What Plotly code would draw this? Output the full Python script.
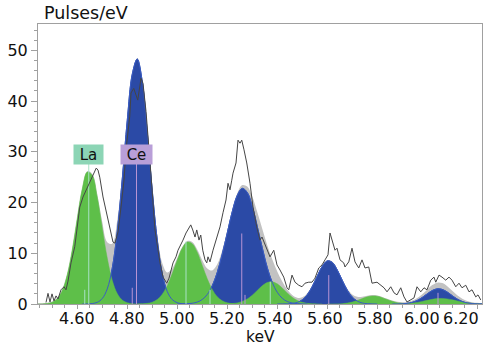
import numpy as np
import plotly.graph_objects as go

# ---------------- data ----------------
# measured spectrum (keV, pulses/eV)
spec_kev = [4.475, 4.483, 4.491, 4.499, 4.507, 4.515, 4.523, 4.535, 4.547, 4.555, 4.563, 4.575,
            4.590, 4.603, 4.610, 4.623, 4.636, 4.650, 4.663, 4.676, 4.683, 4.690, 4.703, 4.715,
            4.730, 4.743, 4.751, 4.763, 4.775, 4.787, 4.795, 4.810, 4.815, 4.826, 4.842, 4.855,
            4.863, 4.875, 4.891, 4.911, 4.931, 4.943, 4.958, 4.967, 4.983, 4.995, 5.003, 5.018,
            5.023, 5.035, 5.043, 5.054, 5.062, 5.071, 5.078, 5.087, 5.094, 5.102, 5.111, 5.118,
            5.123, 5.131, 5.143, 5.158, 5.171, 5.183, 5.195, 5.203, 5.211, 5.218, 5.223, 5.235,
            5.243, 5.251, 5.258, 5.267, 5.278, 5.291, 5.303, 5.318, 5.331, 5.339, 5.359, 5.371,
            5.386, 5.399, 5.411, 5.426, 5.439, 5.446, 5.459, 5.471, 5.486, 5.499, 5.511, 5.526,
            5.539, 5.551, 5.566, 5.579, 5.591, 5.603, 5.611, 5.619, 5.631, 5.639, 5.651, 5.666,
            5.671, 5.686, 5.699, 5.711, 5.726, 5.739, 5.751, 5.766, 5.779, 5.799, 5.814, 5.827,
            5.839, 5.854, 5.867, 5.879, 5.894, 5.907, 5.919, 5.934, 5.947, 5.959, 5.974, 5.987,
            5.999, 6.014, 6.027, 6.034, 6.047, 6.059, 6.074, 6.087, 6.099, 6.114, 6.127, 6.139,
            6.154, 6.167, 6.179, 6.194, 6.203, 6.214]
spec_val = [0.3, 2.1, 0.4, 2.0, 0.6, 1.6, 1.0, 2.8, 3.4, 2.8, 4.5, 8.1,
            11.3, 16.0, 19.1, 21.1, 22.5, 23.8, 25.4, 26.8, 26.4, 25.0, 21.1, 18.5,
            15.0, 12.2, 12.0, 14.2, 19.1, 24.4, 30.4, 37.0, 41.6, 42.5, 40.2, 44.5,
            43.5, 38.0, 28.0, 14.6, 8.1, 5.3, 4.1, 5.1, 8.1, 9.3, 10.6, 12.0,
            12.6, 14.0, 14.6, 15.6, 14.6, 13.2, 14.6, 12.6, 13.6, 10.6, 8.7, 8.1,
            9.3, 8.3, 10.6, 13.2, 15.2, 18.0, 20.5, 23.8, 22.5, 24.4, 25.8, 27.8,
            32.3, 31.7, 32.3, 30.4, 27.8, 23.8, 19.1, 15.2, 12.6, 13.2, 10.6, 9.3,
            10.6, 7.7, 6.7, 5.3, 3.2, 2.8, 5.7, 4.3, 3.7, 3.4, 4.1, 4.3,
            4.3, 5.1, 7.1, 7.7, 8.7, 9.7, 14.0, 12.6, 10.6, 11.0, 8.7, 8.1,
            7.3, 8.3, 11.0, 8.3, 7.1, 8.7, 7.1, 7.3, 4.1, 4.3, 3.7, 3.2,
            2.4, 3.4, 2.2, 1.8, 3.2, 1.4, 0.4, 0.8, 1.2, 3.4, 2.4, 3.2,
            2.8, 4.7, 5.3, 4.3, 5.7, 5.3, 4.7, 5.3, 4.7, 3.4, 4.1, 3.2,
            3.7, 2.4, 2.8, 1.4, 1.8, 0.8]

# fitted line profiles, sampled every 0.02 keV from the given start energy
GRID_START = 4.44
GRID_STEP = 0.02
GRID_N = 90

la_alpha_start = 4.44
la_alpha = [0, 0.02, 0.1, 0.35, 1.04, 2.66, 5.79, 10.7, 16.9, 22.7, 26.0, 25.4, 21.1, 15.0, 9.05,
            4.66, 2.05, 0.77, 0.25, 0.07, 0.02, 0]
la_beta1_start = 4.84
la_beta1 = [0, 0.04, 0.13, 0.36, 0.89, 1.92, 3.62, 5.99, 8.67, 11.0, 12.2, 11.9, 10.2, 7.6, 4.98,
            2.86, 1.43, 0.63, 0.24, 0.08, 0.02, 0]
la_beta2_start = 5.18
la_beta2 = [0, 0.03, 0.08, 0.22, 0.5, 0.99, 1.74, 2.67, 3.6, 4.24, 4.38, 3.97, 3.15, 2.19, 1.33,
            0.71, 0.33, 0.14, 0.05, 0.01, 0]
la_gamma1_start = 5.60
la_gamma1 = [0, 0.01, 0.02, 0.07, 0.18, 0.38, 0.69, 1.07, 1.41, 1.59, 1.53, 1.25, 0.87, 0.52,
             0.26, 0.11, 0.04, 0.01, 0]
la_gamma3_start = 5.84
la_gamma3 = [0, 0.01, 0.02, 0.04, 0.09, 0.18, 0.31, 0.5, 0.72, 0.93, 1.07, 1.1, 1.01, 0.83, 0.61,
             0.4, 0.24, 0.13, 0.06, 0.02]

ce_alpha_start = 4.62
ce_alpha = [0, 0.02, 0.09, 0.33, 1.07, 2.98, 7.07, 14.3, 24.6, 36.2, 45.3, 48.3, 43.9, 33.9, 22.4,
            12.6, 6.03, 2.46, 0.86, 0.25, 0.06, 0.01, 0]
ce_beta1_start = 5.00
ce_beta1 = [0, 0.02, 0.05, 0.15, 0.38, 0.89, 1.88, 3.61, 6.25, 9.83, 14.0, 18.2, 21.4, 22.8, 22.0,
            19.3, 15.3, 11.1, 7.2, 4.28, 2.31, 1.13, 0.49, 0.2, 0.07, 0.02, 0]
ce_beta2_start = 5.40
ce_beta2 = [0, 0.01, 0.03, 0.1, 0.31, 0.82, 1.83, 3.45, 5.5, 7.43, 8.49, 8.2, 6.72, 4.66, 2.73,
            1.36, 0.57, 0.2, 0.06, 0.02, 0]
ce_gamma1_start = 5.86
ce_gamma1 = [0, 0.01, 0.04, 0.13, 0.33, 0.71, 1.29, 2.0, 2.65, 2.99, 2.87, 2.35, 1.64, 0.97, 0.49,
             0.21, 0.08, 0.02, 0.01]

background = 0.15

la_peaks = [(la_alpha_start, la_alpha), (la_beta1_start, la_beta1), (la_beta2_start, la_beta2),
            (la_gamma1_start, la_gamma1), (la_gamma3_start, la_gamma3)]
ce_peaks = [(ce_alpha_start, ce_alpha), (ce_beta1_start, ce_beta1), (ce_beta2_start, ce_beta2),
            (ce_gamma1_start, ce_gamma1)]

# element line markers (keV, marker top in pulses/eV)
la_lines_kev = [4.630, 4.646, 5.035, 5.131, 5.372]
la_lines_top = [2.8, 27.6, 12.3, 2.8, 4.4]
ce_lines_kev = [4.820, 4.837, 5.258, 5.271, 5.606, 6.043]
ce_lines_top = [3.2, 27.6, 13.9, 1.8, 5.7, 2.2]

labels = ["La", "Ce"]
label_kev = [4.646, 4.837]
label_val = [29.5, 29.5]

x_ticks = [4.6, 4.8, 5.0, 5.2, 5.4, 5.6, 5.8, 6.0, 6.2]
x_tick_text = ["4.60", "4.80", "5.00", "5.20", "5.40", "5.60", "5.80", "6.00", "6.20"]
y_ticks = [0, 10, 20, 30, 40, 50]
y_tick_text = ["0", "10", "20", "30", "40", "50"]

# ---------------- styles ----------------
FONT = "DejaVu Sans"
BLUE = "#2b4aa6"
BLUE_EDGE = "#3a5cc4"
GREEN = "#5ebf49"
GRAY = "#c2c2c2"
LA_MARK = "#a8e2c6"
CE_MARK = "#b894d4"
LA_BOX = "#8cd5b5"
CE_BOX = "#b99fd8"
AXIS = "#a0a0a0"
tick_label_nudge = [0, 0, 0, 0, -2, -2, -2, -5, -16]


def peak_x(start, vals):
    return [start + GRID_STEP * i for i in range(len(vals))]


grid = GRID_START + GRID_STEP * np.arange(GRID_N)
total = np.full(GRID_N, background)
for start, vals in la_peaks + ce_peaks:
    i0 = int(round((start - GRID_START) / GRID_STEP))
    total[i0:i0 + len(vals)] += np.array(vals)

fig = go.Figure()

fig.add_trace(go.Scatter(x=grid, y=total, mode="lines", line=dict(width=0, shape="spline", color=GRAY),
                         fill="tozeroy", fillcolor=GRAY, hoverinfo="skip", showlegend=False))

for start, vals in ce_peaks:
    fig.add_trace(go.Scatter(x=peak_x(start, vals), y=vals, mode="lines",
                             line=dict(width=1, shape="spline", color=BLUE),
                             fill="tozeroy", fillcolor=BLUE, showlegend=False))
for start, vals in la_peaks:
    fig.add_trace(go.Scatter(x=peak_x(start, vals), y=vals, mode="lines",
                             line=dict(width=0.5, shape="spline", color=GREEN),
                             fill="tozeroy", fillcolor=GREEN, showlegend=False))
for start, vals in ce_peaks:
    fig.add_trace(go.Scatter(x=peak_x(start, vals), y=vals, mode="lines",
                             line=dict(width=1, shape="spline", color=BLUE_EDGE), showlegend=False))


def marker_xy(kevs, tops):
    xs, ys = [], []
    for e, t in zip(kevs, tops):
        xs += [e, e, None]
        ys += [0, t, None]
    return xs, ys


mx, my = marker_xy(la_lines_kev, la_lines_top)
fig.add_trace(go.Scatter(x=mx, y=my, mode="lines", line=dict(width=1, color=LA_MARK), showlegend=False))
mx, my = marker_xy(ce_lines_kev, ce_lines_top)
fig.add_trace(go.Scatter(x=mx, y=my, mode="lines", line=dict(width=1, color=CE_MARK), showlegend=False))

fig.add_trace(go.Scatter(x=spec_kev, y=spec_val, mode="lines", line=dict(width=1, color="#454545"),
                         showlegend=False))

annotations = []
for txt, e, v, bg, w in zip(labels, label_kev, label_val, [LA_BOX, CE_BOX], [25, 27]):
    annotations.append(dict(x=e, y=v, xref="x", yref="y", text=txt, showarrow=False,
                            bgcolor=bg, width=w, height=15, borderpad=2,
                            font=dict(family=FONT, size=15, color="#111")))
for val, txt, nudge in zip(x_ticks, x_tick_text, tick_label_nudge):
    annotations.append(dict(x=val, y=0, xref="x", yref="paper", text=txt, showarrow=False,
                            xanchor="center", yanchor="middle", xshift=nudge, yshift=-14,
                            font=dict(family=FONT, size=16, color="#111")))
annotations.append(dict(x=0.5, y=0, xref="paper", yref="paper", text="keV", showarrow=False,
                        xanchor="center", yanchor="middle", yshift=-33,
                        font=dict(family=FONT, size=15.5, color="#111")))
annotations.append(dict(x=0, y=1, xref="paper", yref="paper", text="Pulses/eV", showarrow=False,
                        xanchor="left", yanchor="middle", xshift=4, yshift=11,
                        font=dict(family=FONT, size=17.5, color="#111")))

fig.update_layout(
    width=485, height=356,
    margin=dict(l=38, r=3, t=24, b=52, autoexpand=False),
    paper_bgcolor="white", plot_bgcolor="white",
    font=dict(family=FONT, size=16, color="#111"),
    annotations=annotations,
    xaxis=dict(range=[4.443, 6.219], showgrid=False, zeroline=False,
               tickvals=x_ticks, showticklabels=False,
               ticks="outside", ticklen=4, tickcolor=AXIS,
               minor=dict(dtick=0.05, tick0=4.6, ticks="outside", ticklen=3, tickcolor=AXIS),
               showline=True, linecolor=AXIS, linewidth=1, mirror=True),
    yaxis=dict(range=[0, 55.2], showgrid=False, zeroline=False,
               tickvals=y_ticks, ticktext=y_tick_text,
               ticks="outside", ticklen=6, tickcolor=AXIS,
               minor=dict(dtick=2, tick0=0, ticks="outside", ticklen=3, tickcolor=AXIS),
               showline=True, linecolor=AXIS, linewidth=1, mirror=True,
               tickfont=dict(family=FONT, size=16, color="#111")),
)

fig.write_html("out.html", config={"displayModeBar": False},
               post_script="document.body.style.margin='0';")
